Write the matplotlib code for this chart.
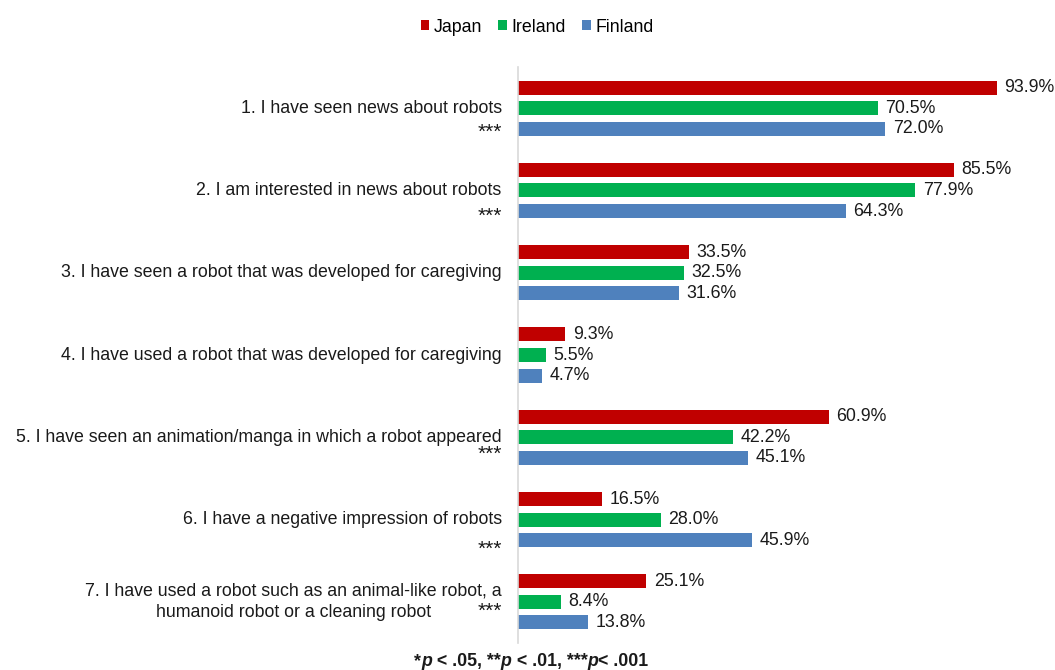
import matplotlib.pyplot as plt
import numpy as np

plt.rcParams['font.family'] = ['Liberation Sans', 'DejaVu Sans']

# Data
items = [
    "1. I have seen news about robots",
    "2. I am interested in news about robots",
    "3. I have seen a robot that was developed for caregiving",
    "4. I have used a robot that was developed for caregiving",
    "5. I have seen an animation/manga in which a robot appeared",
    "6. I have a negative impression of robots",
    "7. I have used a robot such as an animal-like robot, a\nhumanoid robot or a cleaning robot",
]
japan = [93.9, 85.5, 33.5, 9.3, 60.9, 16.5, 25.1]
ireland = [70.5, 77.9, 32.5, 5.5, 42.2, 28.0, 8.4]
finland = [72.0, 64.3, 31.6, 4.7, 45.1, 45.9, 13.8]
signif = ["***", "***", "", "", "***", "***", "***"]

countries = ["Japan", "Ireland", "Finland"]
colors = ["#C00000", "#00B050", "#4F81BD"]
series = [japan, ireland, finland]

FS = 12.8
TXT = '#1a1a1a'
fig = plt.figure(figsize=(10.55, 6.70), dpi=100)
ax = fig.add_axes([518 / 1055, 1 - 643 / 670, (1028 - 518) / 1055, (643 - 67) / 670])
renderer = fig.canvas.get_renderer()

y = np.arange(len(items))
offsets = [-0.25, 0.0, 0.25]
bar_h = 0.17
star_dy = [0.29, 0.32, 0, 0, 0.21, 0.36, 0.11]

for vals, off, col, name in zip(series, offsets, colors, countries):
    ax.barh(y + off, vals, height=bar_h, color=col, label=name)
    for yi, v in zip(y, vals):
        ax.text(v + 1.5, yi + off, f"{v:.1f}%", va='center', ha='left', fontsize=FS, color=TXT)

ax.set_xlim(0, 100)
ax.set_ylim(6.5, -0.5)

# category labels; two-line label drawn line by line, centred under each other
line_gap = 0.13
for yi, lab in zip(y, items):
    lines = lab.split("\n")
    if len(lines) == 1:
        ax.text(-3.2, yi, lab, ha='right', va='center', fontsize=FS, color=TXT)
        continue
    first = ax.text(-3.2, yi - line_gap, lines[0], ha='right', va='center', fontsize=FS, color=TXT)
    bb = first.get_window_extent(renderer)
    xc = ax.transData.inverted().transform(((bb.x0 + bb.x1) / 2, 0))[0]
    ax.text(xc, yi + line_gap, lines[1], ha='center', va='center', fontsize=FS, color=TXT)

for yi, s, dy in zip(y, signif, star_dy):
    if s:
        ax.text(-3.2, yi + dy, s, ha='right', va='center', fontsize=15, color=TXT)

for sp in ['top', 'right', 'bottom']:
    ax.spines[sp].set_visible(False)
ax.spines['left'].set_color('#D9D9D9')
ax.spines['left'].set_linewidth(1.2)
ax.set_xticks([])
ax.set_yticks([])

handles, labels = ax.get_legend_handles_labels()
fig.legend(handles, labels, loc='center', bbox_to_anchor=(537 / 1055, 1 - 27 / 670),
           ncol=3, frameon=False, fontsize=FS, handlelength=0.5, handleheight=0.5,
           handletextpad=0.25, columnspacing=0.9)

# footnote, bold with italic p
parts = [("*", 'normal'), ("p", 'italic'), (" < .05, **", 'normal'), ("p", 'italic'),
         (" < .01, ***", 'normal'), ("p", 'italic'), ("< .001", 'normal')]
last = None
for txt, style in parts:
    if last is None:
        last = fig.text(414 / 1055, -0.0005, txt, fontsize=FS, fontweight='bold',
                        fontstyle=style, va='bottom', ha='left', color=TXT)
    else:
        last = ax.annotate(txt, xy=(1, 0), xycoords=last, va='bottom', ha='left',
                           fontsize=FS, fontweight='bold', fontstyle=style,
                           color=TXT, annotation_clip=False)

fig.savefig("out.png", dpi=100)
